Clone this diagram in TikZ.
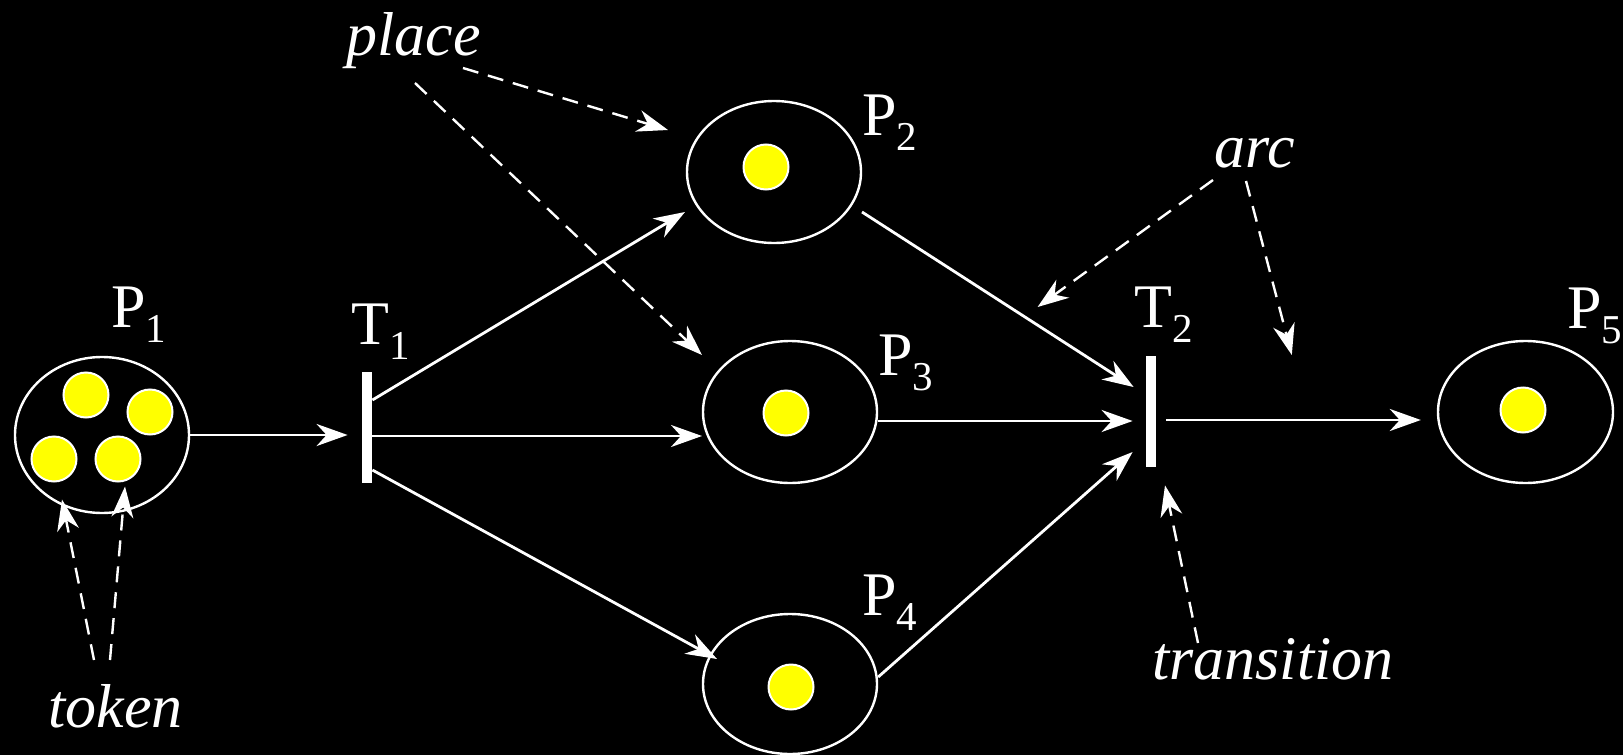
\documentclass[tikz,border=0pt]{standalone}
\usepackage{fontspec}
\setmainfont{Liberation Serif}
\usepackage{tikz}
\usetikzlibrary{arrows.meta, calc, shapes.geometric}
\definecolor{pnback}{HTML}{000000}
\definecolor{pntoken}{HTML}{FFFF00}
\newcommand{\pnsub}[1]{\raisebox{-7.5pt}{\fontsize{20.5pt}{20.5pt}\selectfont #1}}
\tikzset{
  placebox/.style={ellipse, draw=white, line width=1.2pt, inner sep=0pt},
  transbar/.style={rectangle, fill=white, inner sep=0pt,
                   minimum width=5pt, minimum height=55.5pt},
  tokendot/.style={circle, draw=white, fill=pntoken, line width=1pt,
                   inner sep=0pt, minimum size=22.5pt},
  plabel/.style={text=white, inner sep=0pt, anchor=base west,
                 font=\fontsize{31pt}{31pt}\selectfont},
  note/.style={plabel, font=\fontsize{31pt}{31pt}\selectfont\itshape},
}

\begin{document}
\begin{tikzpicture}[
    x=0.5pt, y=-0.5pt,
    arr/.style={-{Stealth[length=15.5pt, width=11pt, inset=5pt]}, white, line width=1.4pt},
    darr/.style={arr, line width=1.2pt, dash pattern=on 8pt off 5pt},
  ]
  \useasboundingbox (0,0) rectangle (1623,755);
  \fill[pnback] (0,0) rectangle (1623,755);

  % places and transitions
  \node[placebox, minimum width=87pt, minimum height=78pt] (p1) at (102,435) {};
  \node[placebox, minimum width=87pt, minimum height=71pt] (p2) at (774,172) {};
  \node[placebox, minimum width=87pt, minimum height=71pt] (p3) at (790,412) {};
  \node[placebox, minimum width=87pt, minimum height=70pt] (p4) at (790,684) {};
  \node[placebox, minimum width=87.5pt, minimum height=71pt] (p5) at (1525.5,412) {};
  \node[transbar] (t1) at (367,427.5) {};
  \node[transbar] (t2) at (1150.5,411.5) {};

  % tokens
  \node[tokendot] (tk1) at (86,395) {};
  \node[tokendot] (tk2) at (150,412) {};
  \node[tokendot] (tk3) at (54,459) {};
  \node[tokendot] (tk4) at (118,459) {};
  \node[tokendot] (tk5) at (766,167) {};
  \node[tokendot] (tk6) at (786,413) {};
  \node[tokendot] (tk7) at (791,687) {};
  \node[tokendot] (tk8) at (1523,410) {};

  % labels
  \node[plabel] (lp1) at (111,327) {P\pnsub{1}};
  \node[plabel] (lt1) at (351,344) {T\pnsub{1}};
  \node[plabel] (lp2) at (862,135) {P\pnsub{2}};
  \node[plabel] (lp3) at (878,375) {P\pnsub{3}};
  \node[plabel] (lp4) at (862,615) {P\pnsub{4}};
  \node[plabel] (lt2) at (1134,327) {T\pnsub{2}};
  \node[plabel] (lp5) at (1567,328) {P\pnsub{5}};

  \node[note] (lplace) at (346,55) {place};
  \node[note] (larc) at (1214,167) {arc};
  \node[note] (ltrans) at (1152,679) {transition};
  \node[note] (ltoken) at (48,727) {token};

  % arcs
  \draw[arr, shorten >=7pt] (p1.east) -- (p1.east -| t1.west);
  \draw[arr] ($(t1.east)+(0,-27.5)$) -- ($(p2.center)+(-89,40)$);
  \draw[arr] ($(t1.east)+(0,8.5)$) -- ($(p3.center)+(-88,24)$);
  \draw[arr] ($(t1.east)+(0,42.5)$) -- ($(p4.center)+(-73,-25)$);
  \draw[arr] ($(p2.center)+(88,40)$) -- ($(t2.west)+(-11.5,-24.5)$);
  \draw[arr] ($(p3.east)+(0,9)$) -- ($(t2.west)+(-12.5,9.5)$);
  \draw[arr] ($(p4.east)+(0,-7)$) -- ($(t2.west)+(-12.5,40.5)$);
  \draw[arr] ($(t2.east)+(10.5,8.5)$) -- ($(p5.west)+(-16,8)$);

  % annotations
  \draw[darr] ($(lplace.base west)+(117,13)$) -- ($(p2.center)+(-106,-42)$);
  \draw[darr] ($(lplace.base west)+(69,28)$) -- ($(p3.center)+(-88,-57)$);
  \draw[darr] ($(larc.base west)+(-1,13)$) -- ($(t2.west)+(-107.5,-104.5)$);
  \draw[darr] ($(larc.base west)+(32,14)$) -- ($(p5.west)+(-145,-57)$);
  \draw[darr] ($(ltrans.base west)+(46,-36)$) -- ($(t2.south)+(14.5,18)$);
  \draw[darr] ($(ltoken.base west)+(46,-67)$) -- ($(tk3.south)+(8,17)$);
  \draw[darr] ($(ltoken.base west)+(62,-67)$) -- ($(tk4.south)+(7,4)$);

\end{tikzpicture}
\end{document}
